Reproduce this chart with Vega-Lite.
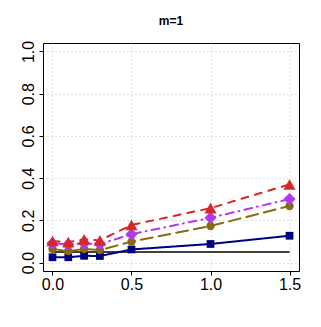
{
  "$schema": "https://vega.github.io/schema/vega-lite/v6.json",
  "width": 256,
  "height": 228,
  "autosize": {"type": "none"},
  "padding": {"left": 43, "top": 43, "right": 22, "bottom": 56},
  "title": {"text": "m=1", "fontSize": 12, "fontWeight": "bold", "font": "Liberation Sans", "color": "black", "offset": 5, "anchor": "middle", "frame": "group", "baseline": "bottom", "dy": 5},
  "datasets": {
    "series": [
      {"x": 0, "y": 0.025, "s": "s1"}, {"x": 0.1, "y": 0.025, "s": "s1"}, {"x": 0.2, "y": 0.032, "s": "s1"}, {"x": 0.3, "y": 0.031, "s": "s1"}, {"x": 0.5, "y": 0.062, "s": "s1"}, {"x": 1.0, "y": 0.088, "s": "s1"}, {"x": 1.5, "y": 0.127, "s": "s1"},
      {"x": 0, "y": 0.064, "s": "s2"}, {"x": 0.1, "y": 0.054, "s": "s2"}, {"x": 0.2, "y": 0.064, "s": "s2"}, {"x": 0.3, "y": 0.059, "s": "s2"}, {"x": 0.5, "y": 0.099, "s": "s2"}, {"x": 1.0, "y": 0.173, "s": "s2"}, {"x": 1.5, "y": 0.268, "s": "s2"},
      {"x": 0, "y": 0.091, "s": "s3"}, {"x": 0.1, "y": 0.086, "s": "s3"}, {"x": 0.2, "y": 0.091, "s": "s3"}, {"x": 0.3, "y": 0.088, "s": "s3"}, {"x": 0.5, "y": 0.134, "s": "s3"}, {"x": 1.0, "y": 0.212, "s": "s3"}, {"x": 1.5, "y": 0.301, "s": "s3"},
      {"x": 0, "y": 0.102, "s": "s4"}, {"x": 0.1, "y": 0.097, "s": "s4"}, {"x": 0.2, "y": 0.11, "s": "s4"}, {"x": 0.3, "y": 0.105, "s": "s4"}, {"x": 0.5, "y": 0.178, "s": "s4"}, {"x": 1.0, "y": 0.258, "s": "s4"}, {"x": 1.5, "y": 0.37, "s": "s4"}
    ],
    "ref": [{"x": 0, "y": 0.05}, {"x": 1.5, "y": 0.05}]
  },
  "encoding": {
    "x": {"field": "x", "type": "quantitative", "scale": {"domain": [-0.06, 1.56], "nice": false, "zero": false},
      "axis": {"values": [0, 0.5, 1, 1.5], "format": ".1f", "title": null, "labelPadding": 1}},
    "y": {"field": "y", "type": "quantitative", "scale": {"domain": [-0.04, 1.04], "nice": false, "zero": false},
      "axis": {"values": [0, 0.2, 0.4, 0.6, 0.8, 1.0], "format": ".1f", "title": null, "labelAngle": 270, "labelAlign": "center", "labelBaseline": "alphabetic", "labelPadding": 6}}
  },
  "layer": [
    {"data": {"name": "ref"}, "mark": {"type": "line", "color": "black", "strokeWidth": 1.5}},
    {"data": {"name": "series"}, "mark": {"type": "line", "strokeWidth": 2, "strokeCap": "round"},
      "encoding": {
        "color": {"field": "s", "type": "nominal", "scale": {"domain": ["s1", "s2", "s3", "s4"], "range": ["#000080", "#8B6914", "#B23AEE", "#D62828"]}, "legend": null},
        "strokeDash": {"field": "s", "type": "nominal", "scale": {"domain": ["s1", "s2", "s3", "s4"], "range": [[1, 0], [12, 6], [1, 5, 8, 5], [7, 7]]}, "legend": null}
      }},
    {"data": {"name": "series"}, "transform": [{"filter": {"field": "s", "equal": "s1"}}],
      "mark": {"type": "point", "filled": true, "opacity": 1, "shape": "square", "size": 60, "color": "#000080"}, "encoding": {}},
    {"data": {"name": "series"}, "transform": [{"filter": {"field": "s", "equal": "s2"}}],
      "mark": {"type": "point", "filled": true, "opacity": 1, "shape": "circle", "size": 70, "color": "#8B6914"}, "encoding": {}},
    {"data": {"name": "series"}, "transform": [{"filter": {"field": "s", "equal": "s3"}}],
      "mark": {"type": "point", "filled": true, "opacity": 1, "shape": "diamond", "size": 150, "color": "#B23AEE"}, "encoding": {}},
    {"data": {"name": "series"}, "transform": [{"filter": {"field": "s", "equal": "s4"}}],
      "mark": {"type": "point", "filled": true, "opacity": 1, "shape": "triangle-up", "size": 150, "color": "#D62828"}, "encoding": {}}
  ],
  "config": {
    "view": {"stroke": "black", "strokeWidth": 1},
    "axis": {
      "domain": false,
      "ticks": true, "tickColor": "black", "tickSize": 4, "tickWidth": 1,
      "labelFont": "Liberation Sans", "labelFontSize": 16, "labelColor": "black",
      "grid": true, "gridColor": "#c0c0c0", "gridDash": [1, 3], "gridWidth": 1
    }
  }
}
